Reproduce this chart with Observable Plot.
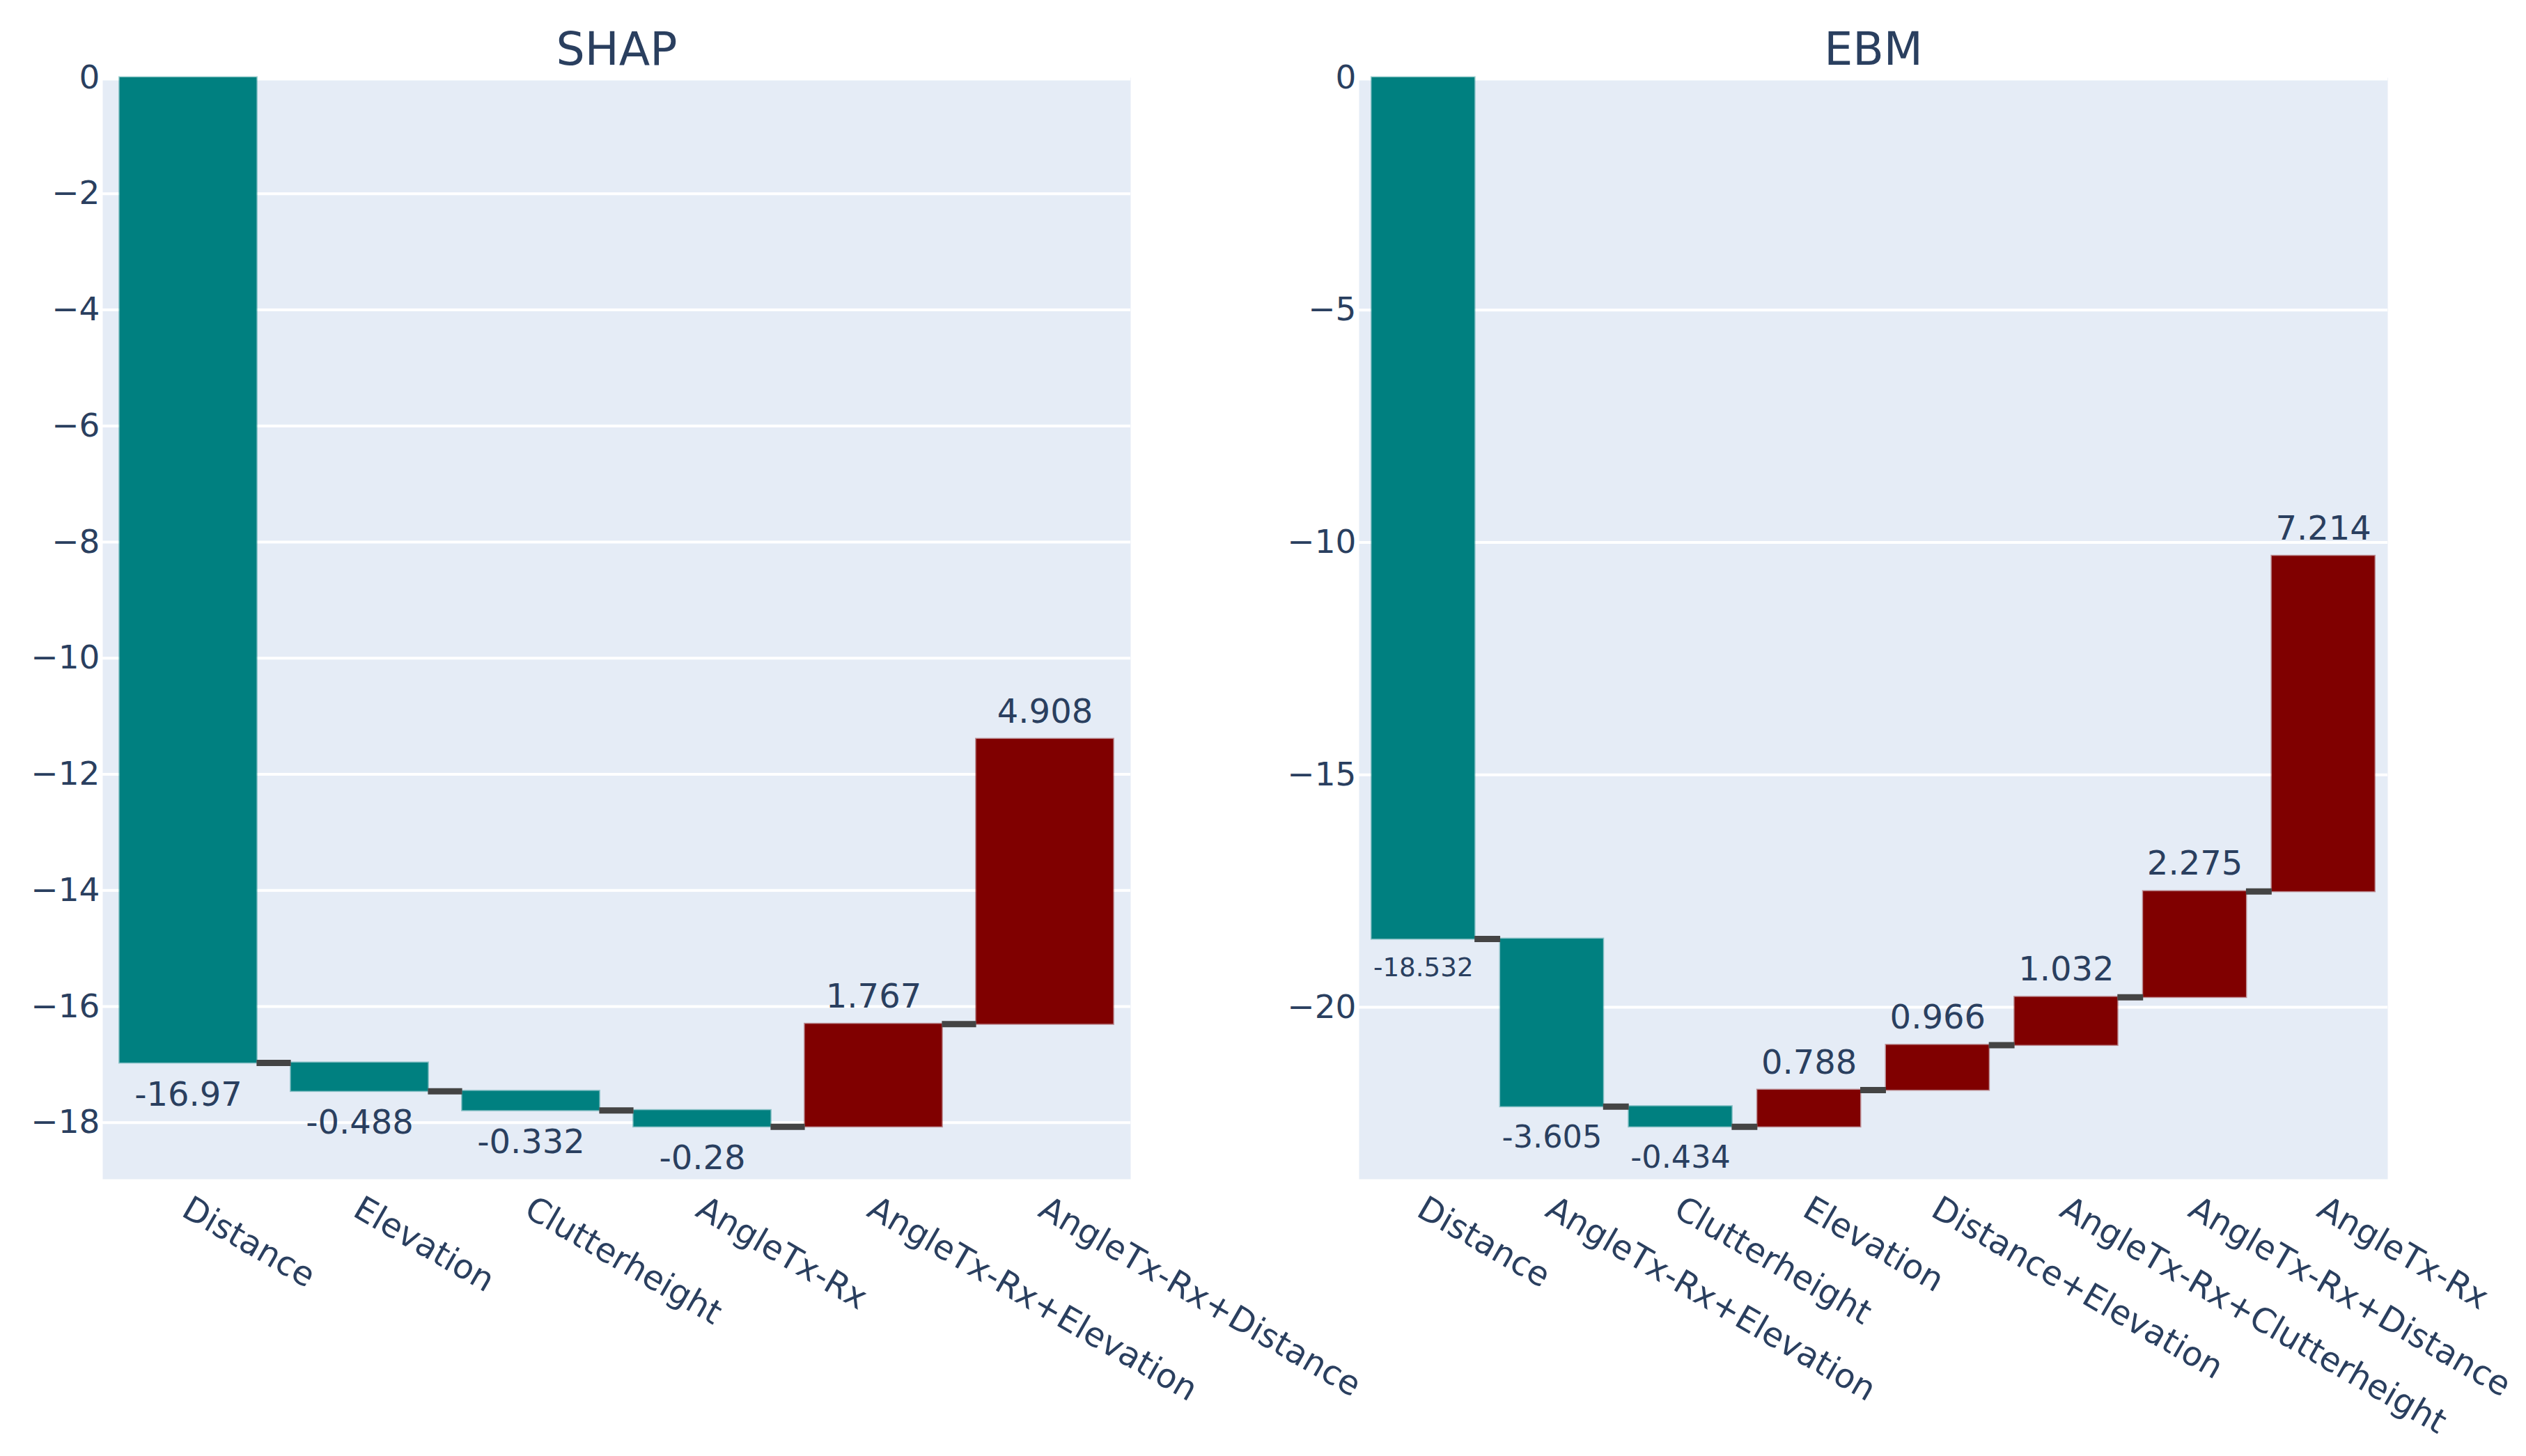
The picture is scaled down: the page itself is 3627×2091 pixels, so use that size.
<!DOCTYPE html>
<html><head><meta charset="utf-8">
<script src="https://cdn.jsdelivr.net/npm/d3@7"></script>
<script src="https://cdn.jsdelivr.net/npm/@observablehq/plot@0.6"></script>
<style>
html,body{margin:0;padding:0;background:#fff;}
#fig{position:relative;width:3627px;height:2091px;overflow:hidden;background:#fff;}
#fig svg{position:absolute;top:0;}
</style></head><body><div id="fig"></div>
<script>
// ---- data ----
const shapTitle = "SHAP";
const shapFeatures = ["Distance","Elevation","Clutterheight","AngleTx-Rx","AngleTx-Rx+Elevation","AngleTx-Rx+Distance"];
const shapValues = [-16.97,-0.488,-0.332,-0.28,1.767,4.908];
const shapTicks = [0,-2,-4,-6,-8,-10,-12,-14,-16,-18];

const ebmTitle = "EBM";
const ebmFeatures = ["Distance","AngleTx-Rx+Elevation","Clutterheight","Elevation","Distance+Elevation","AngleTx-Rx+Clutterheight","AngleTx-Rx+Distance","AngleTx-Rx"];
const ebmValues = [-18.532,-3.605,-0.434,0.788,0.966,1.032,2.275,7.214];
const ebmTicks = [0,-5,-10,-15,-20];

// ---- style ----
const TEAL = "#008080", RED = "#800000", INK = "#2a3f5f", BG = "#E5ECF6", CONN = "#444444";
const FONT = "DejaVu Sans";
const H = 2091, TOP = 111, BOTTOM = 1693;
const FS = 48, TICKFS = 47;

const ctx = document.createElement("canvas").getContext("2d");
ctx.font = `${FS}px "${FONT}"`;
const fmt = d3.format("d");

function panel({title, features, values, ticks, width, marginLeft, marginRight, left}) {
  let cum = 0;
  const rows = features.map((f, i) => { const start = cum; cum += values[i]; return {i, feature: f, value: values[i], start, end: cum}; });
  const lo = d3.min(rows, d => Math.min(d.start, d.end));
  const hi = d3.max(rows, d => Math.max(d.start, d.end));
  const domain = [lo - 0.05 * (hi - lo), hi];
  const conns = rows.slice(0, -1).map(d => ({x1: d.i + 0.4, x2: d.i + 0.6, level: d.end}));
  const bw = 0.8 * (width - marginLeft - marginRight) / features.length;
  const fit = d => { const t = String(d.value); const w = ctx.measureText(t).width; return Math.min(FS, FS * (bw - 4) / w); };
  const neg = rows.filter(d => d.value < 0), pos = rows.filter(d => d.value >= 0);
  const svg = Plot.plot({
    width, height: H, marginLeft, marginRight, marginTop: TOP, marginBottom: H - BOTTOM,
    style: {background: "transparent", overflow: "visible", fontFamily: FONT, fontSize: TICKFS + "px", color: INK, maxWidth: "none"},
    x: {domain: [-0.5, features.length - 0.5], axis: null},
    y: {domain},
    marks: [
      Plot.frame({fill: BG, stroke: "none"}),
      Plot.ruleY(ticks, {stroke: "white", strokeWidth: 4}),
      Plot.ruleY([0], {stroke: "white", strokeWidth: 8}),
      Plot.rectY(neg, {x1: d => d.i - 0.4, x2: d => d.i + 0.4, y1: "start", y2: "end", fill: TEAL, stroke: TEAL, strokeOpacity: 0.4, strokeWidth: 3}),
      Plot.rectY(pos, {x1: d => d.i - 0.4, x2: d => d.i + 0.4, y1: "start", y2: "end", fill: RED, stroke: RED, strokeOpacity: 0.4, strokeWidth: 3}),
      Plot.ruleY(conns, {x1: "x1", x2: "x2", y: "level", stroke: CONN, strokeWidth: 9}),
      Plot.text(neg, {x: "i", y: "end", text: d => String(d.value), lineAnchor: "top", dy: 27, fontSize: fit, fill: INK}),
      Plot.text(pos, {x: "i", y: "end", text: d => String(d.value), lineAnchor: "bottom", dy: -24, fontSize: fit, fill: INK}),
      Plot.axisY(ticks, {tickSize: 0, tickPadding: 4, fontSize: TICKFS, tickFormat: fmt}),
      Plot.text(rows, {x: "i", text: "feature", frameAnchor: "bottom", rotate: 30, textAnchor: "start", lineAnchor: "top", dx: 5, dy: 22, fontSize: FS, fill: INK}),
      Plot.text([title], {text: d => d, frameAnchor: "top", lineAnchor: "bottom", dy: -19, fontSize: 65, fill: INK})
    ]
  });
  svg.style.left = left + "px";
  document.getElementById("fig").appendChild(svg);
}

panel({title: shapTitle, features: shapFeatures, values: shapValues, ticks: shapTicks, width: 1800, marginLeft: 147, marginRight: 177, left: 0});
panel({title: ebmTitle, features: ebmFeatures, values: ebmValues, ticks: ebmTicks, width: 1827, marginLeft: 151, marginRight: 199, left: 1800});
</script></body></html>
